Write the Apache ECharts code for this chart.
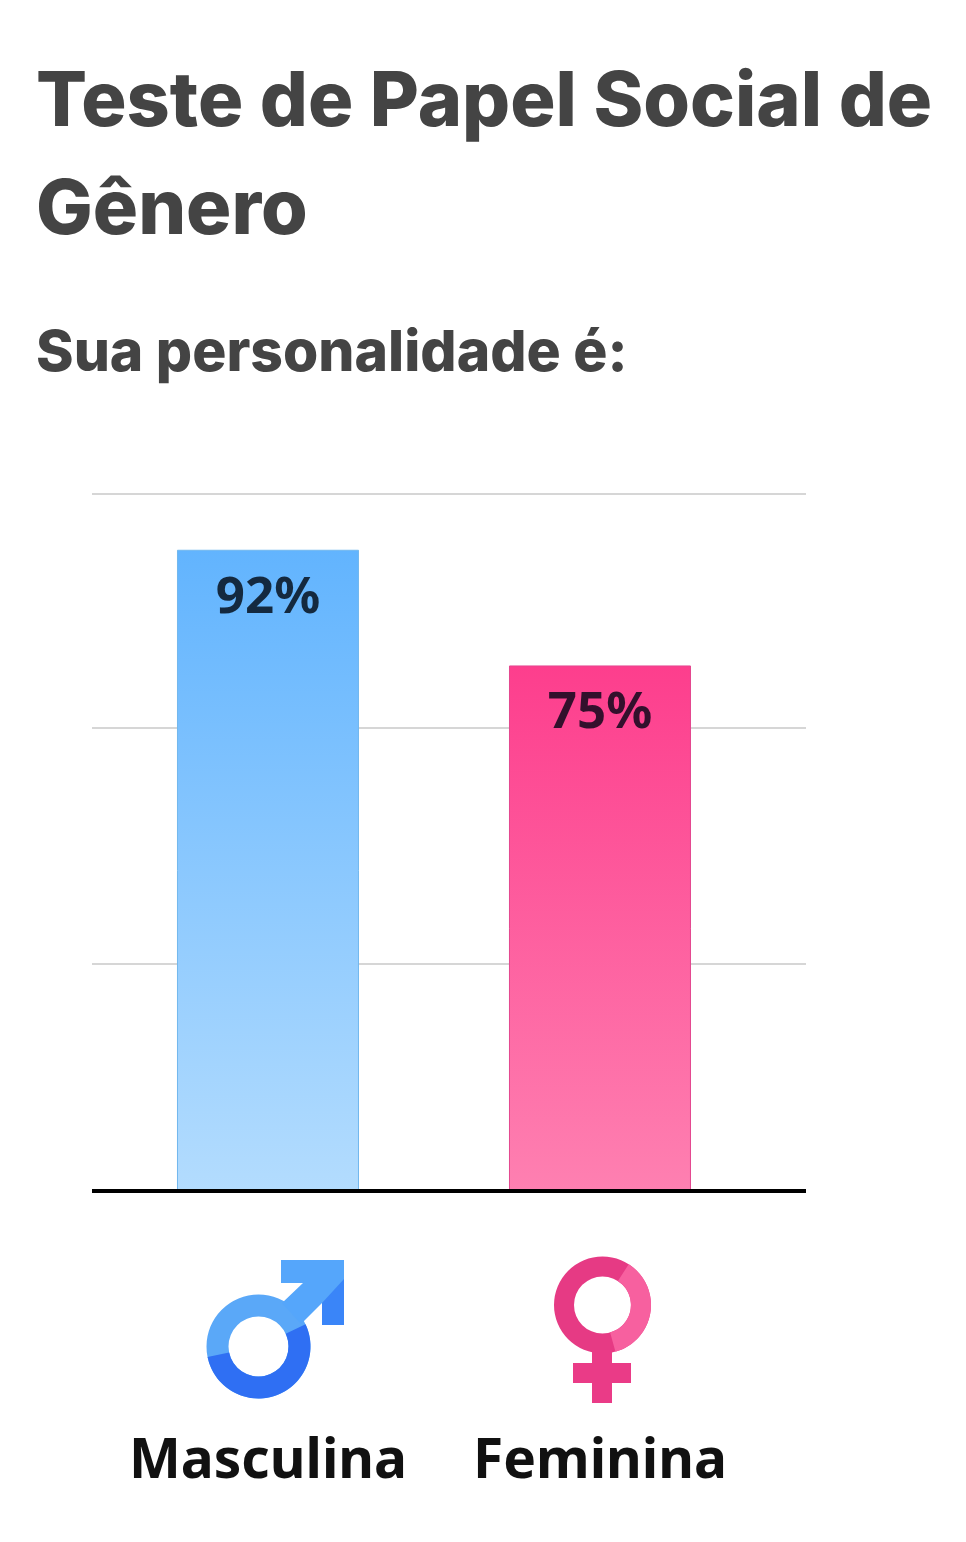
<!DOCTYPE html>
<html>
<head>
<meta charset="utf-8">
<style>
  html, body { margin: 0; padding: 0; background: #fff; }
  #main { width: 966px; height: 1542px; }
</style>
<script src="https://cdn.jsdelivr.net/npm/echarts@6/dist/echarts.min.js"></script>
</head>
<body>
<div id="main"></div>
<script>
const titleText = "Teste de Papel Social de\nGênero";
const subtitleText = "Sua personalidade é:";
const categories = ["Masculina", "Feminina"];
const values = [92, 75.4];
const valueLabels = ["92%", "75%"];
const gridValues = [0, 32.6, 66.4, 100];
const topColors = ["#62b4fe", "#fd3e8d"];
const bottomColors = ["#b3dcfe", "#fe80b1"];
const borderColors = ["#72b8ee", "#e4478f"];
const labelColors = ["#14293f", "#33102c"];

let myChart = echarts.init(document.getElementById("main"), null, { renderer: "canvas" });

myChart.setOption({
  backgroundColor: "#fff",
  animation: false,
  title: [
    {
      text: titleText,
      left: 31,
      top: 44,
      textStyle: { fontFamily: "Inter", fontWeight: 800, fontSize: 75.5, lineHeight: 108, color: "#444444" }
    },
    {
      text: subtitleText,
      left: 31,
      top: 316,
      textStyle: { fontFamily: "Inter", fontWeight: 800, fontSize: 57, lineHeight: 66, color: "#444444" }
    }
  ],
  grid: { left: 92, right: 160, top: 494, bottom: 351 },
  xAxis: {
    type: "value",
    min: -0.5301,
    max: 1.6205,
    z: 3,
    splitLine: { show: false },
    axisLine: { show: true, onZero: false, lineStyle: { color: "#000", width: 4, cap: "butt" } },
    axisTick: { show: false, customValues: [0, 1] },
    axisLabel: {
      customValues: [0, 1],
      formatter: v => categories[v],
      margin: 244,
      fontFamily: "Noto Sans",
      fontWeight: 700,
      fontSize: 55,
      color: "#111"
    }
  },
  yAxis: {
    type: "value",
    min: 0,
    max: 100,
    axisLine: { show: false },
    axisLabel: { show: false },
    axisTick: { show: false, customValues: gridValues },
    splitLine: { show: true, lineStyle: { color: "#d6d6d6", width: 2 } }
  },
  series: [
    {
      type: "bar",
      barWidth: 182,
      data: values.map((v, i) => ({
        value: [i, v],
        itemStyle: {
          color: new echarts.graphic.LinearGradient(0, 0, 0, 1, [
            { offset: 0, color: topColors[i] },
            { offset: 1, color: bottomColors[i] }
          ]),
          borderColor: borderColors[i],
          borderWidth: 1
        },
        label: { color: labelColors[i] }
      })),
      label: {
        show: true,
        position: "insideTop",
        distance: 23,
        formatter: p => valueLabels[p.dataIndex],
        fontFamily: "Noto Sans",
        fontWeight: 700,
        fontSize: 51
      }
    }
  ]
});

// simbolos de genero abaixo das barras
myChart.setOption({
  graphic: [
    // masculino
    { type: "ring", shape: { cx: 258.5, cy: 1346.5, r: 52, r0: 30 }, style: { fill: "#5aa8f8" } },
    { type: "polygon", shape: { points: [[281, 1260], [344, 1260], [344, 1325], [322, 1325], [322, 1303], [301, 1324], [282, 1303], [303, 1283], [281, 1283]] }, style: { fill: "#55a6fb" } },
    { type: "sector", shape: { cx: 258.5, cy: 1346.5, r: 52, r0: 30, startAngle: -0.44, endAngle: 2.94 }, style: { fill: "#2f6ff3" } },
    { type: "polygon", shape: { points: [[344, 1279], [344, 1325], [322, 1325], [322, 1303]] }, style: { fill: "#3a85f8" } },
    // feminino
    { type: "ring", shape: { cx: 602.5, cy: 1305, r: 48.5, r0: 28.5 }, style: { fill: "#e63a84" } },
    { type: "sector", shape: { cx: 602.5, cy: 1305, r: 48.5, r0: 28.5, startAngle: -1.0, endAngle: 1.3 }, style: { fill: "#f7609f" } },
    { type: "rect", shape: { x: 592, y: 1350, width: 20, height: 53 }, style: { fill: "#ea3b87" } },
    { type: "rect", shape: { x: 573, y: 1363, width: 58, height: 20 }, style: { fill: "#ea3b87" } }
  ]
});
</script>
</body>
</html>
